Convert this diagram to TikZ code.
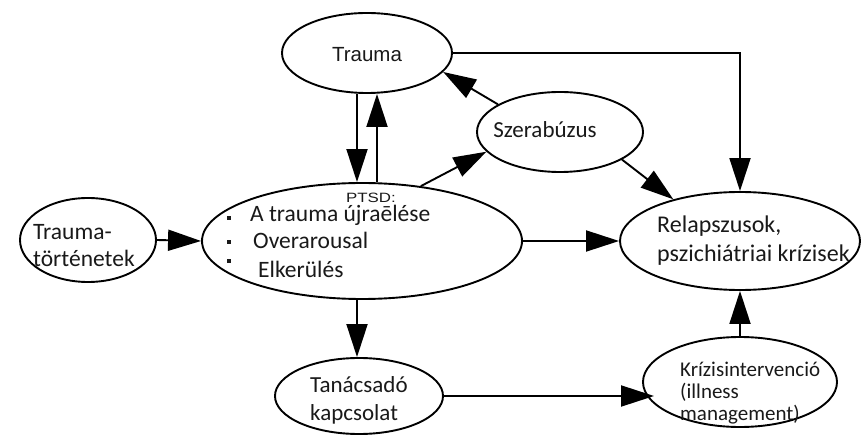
\documentclass[tikz,border=0pt]{standalone}
\usepackage{fontspec}
\setmainfont{Carlito}
\newfontfamily\arialf{Liberation Sans}
\usetikzlibrary{shapes.geometric,arrows.meta,calc}
\begin{document}
\begin{tikzpicture}[x=1pt,y=-1pt,
  ell/.style={draw,ellipse,line width=1.9pt,inner sep=0pt},
  arr/.style={line width=1.9pt,-{Triangle[length=33pt 0 0,width=21pt 0 0]}},
  txt/.style={anchor=base west,inner sep=0pt,text=black!90},
  ctxt/.style={anchor=base,inner sep=0pt,text=black!90},
  bul/.style={fill=black!90,inner sep=0pt,minimum size=4pt,rectangle}
]
\useasboundingbox (0,0) rectangle (861,435);
% ellipses
\node[ell,minimum width=170pt,minimum height=80pt] (trauma) at (367,53) {};
\node[ell,minimum width=166pt,minimum height=80pt] (szer) at (560,132) {};
\node[ell,minimum width=320pt,minimum height=116pt] (ptsd) at (362,241) {};
\node[ell,minimum width=136pt,minimum height=84pt] (tort) at (88,240) {};
\node[ell,minimum width=240pt,minimum height=98pt] (relapse) at (740,241) {};
\node[ell,minimum width=168pt,minimum height=76pt] (tan) at (359,396) {};
\node[ell,minimum width=194pt,minimum height=90pt] (kriz) at (740,382) {};
% texts
\node[ctxt,font=\arialf\fontsize{20.5}{22}\selectfont] (ttrauma) at (367,62) {Trauma};
\node[ctxt,font=\fontsize{23}{26}\selectfont] (tszer) at (545,138) {Szerabúzus};
\node[ctxt,font=\arialf\fontsize{13.5}{15}\selectfont] (tptsd) at (371,203) {\scalebox{1.25}[1]{PTSD:}};
\node[txt,font=\fontsize{23.5}{26}\selectfont] (tp1) at (250,222) {A trauma újraēlése};
\node[txt,font=\fontsize{23.5}{26}\selectfont] (tp2) at (253,249) {Overarousal};
\node[txt,font=\fontsize{23.5}{26}\selectfont] (tp3) at (258,278) {Elkerülés};
\node[bul] (b1) at (229,218) {};
\node[bul] (b2) at (229,242) {};
\node[bul] (b3) at (229,261) {};
\node[txt,font=\fontsize{23.5}{26}\selectfont] (tt1) at (33,240) {Trauma-};
\node[txt,font=\fontsize{23.5}{26}\selectfont] (tt2) at (33,267) {történetek};
\node[txt,font=\fontsize{24}{26}\selectfont] (tr1) at (657,233) {Relapszusok,};
\node[txt,font=\fontsize{24}{26}\selectfont] (tr2) at (657,262) {pszichiátriai krízisek};
\node[txt,font=\fontsize{23}{26}\selectfont] (ta1) at (310,392) {Tanácsadó};
\node[txt,font=\fontsize{23}{26}\selectfont] (ta2) at (310,420) {kapcsolat};
\node[txt,font=\fontsize{21}{22}\selectfont] (tk1) at (680,376) {Krízisintervenció};
\node[txt,font=\fontsize{21}{22}\selectfont] (tk2) at (680,398) {(illness};
\node[txt,font=\fontsize{21}{22}\selectfont] (tk3) at (680,420) {management)};
% helper x positions
\coordinate (xa) at (357,0);
\coordinate (xb) at (377,0);
% connectors
\draw[arr] (trauma.south -| xa) -- (ptsd.north -| xa);
\draw[arr] (ptsd.north -| xb) -- (trauma.south -| xb);
\draw[arr] (szer.156) -- (trauma.346);
\draw[arr] (ptsd.43) -- (szer.195);
\draw[arr] (trauma.east) -| (relapse.north);
\draw[arr] (szer.336) -- (relapse.148);
\draw[arr] (tort.east) -- (ptsd.west);
\draw[arr] (ptsd.east) -- (relapse.west);
\draw[arr] (ptsd.south -| xa) -- (tan.north -| xa);
\draw[arr] (tan.east) -- ($(tan.east -| kriz.west)+(12,0)$);
\draw[arr] (kriz.north) -- (relapse.south);
\end{tikzpicture}
\end{document}
